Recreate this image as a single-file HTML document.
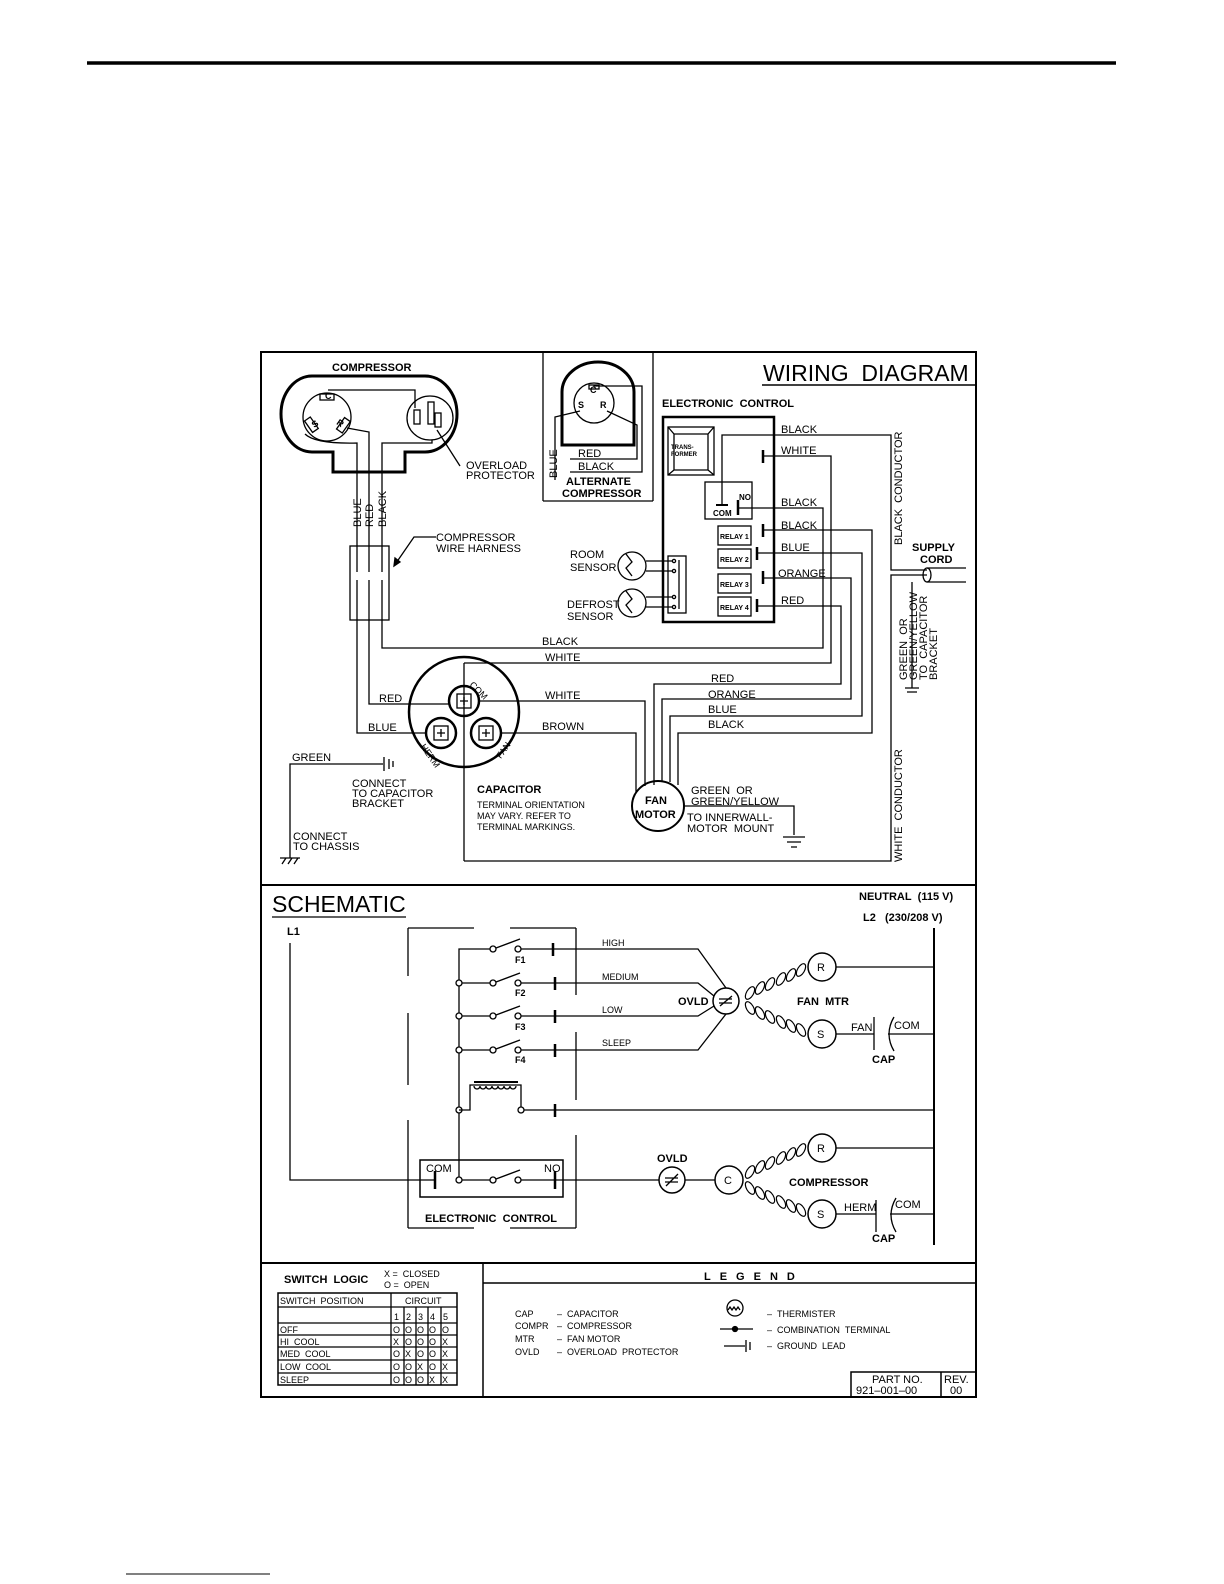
<!DOCTYPE html>
<html><head><meta charset="utf-8"><style>
html,body{margin:0;padding:0;background:#fff}
svg{display:block}
text{font-family:"Liberation Sans",sans-serif;fill:#000}
.t{font-size:11px}
.s{font-size:9px}
.b{font-weight:bold}
</style></head><body>
<svg width="1224" height="1584" viewBox="0 0 1224 1584" xmlns="http://www.w3.org/2000/svg">
<rect width="1224" height="1584" fill="#fff"/>
<line x1="87" y1="63" x2="1116" y2="63" stroke="#000" stroke-width="3.5"/>
<line x1="126" y1="1574" x2="270" y2="1574" stroke="#000" stroke-width="1"/>
<g stroke="#000" fill="none" stroke-width="1.3">
<rect x="261" y="352" width="715" height="1045" stroke-width="2"/>
<line x1="261" y1="885" x2="976" y2="885" stroke-width="2"/>
<line x1="261" y1="1263" x2="976" y2="1263" stroke-width="2"/>
<line x1="483" y1="1263" x2="483" y2="1397" stroke-width="1.5"/>
<line x1="483" y1="1283" x2="976" y2="1283" stroke-width="1.5"/>
<line x1="762" y1="385" x2="976" y2="385" stroke-width="1.5"/>
<path d="M333 452 L333 472 L405 472 L405 452 L425 452 A32 38 0 0 0 425 376 L312 376 A31 38 0 0 0 312 452 Z" stroke-width="3"/>
<circle cx="327" cy="417" r="24"/>
<ellipse cx="430" cy="418" rx="23" ry="22"/>
<rect x="320" y="394" width="14" height="6"/>
<rect x="308" y="418" width="7" height="14" transform="rotate(-35 311 425)"/>
<rect x="340" y="418" width="7" height="14" transform="rotate(35 343 425)"/>
<rect x="414" y="410" width="6" height="14"/>
<rect x="428" y="402" width="6" height="22"/>
<rect x="435" y="413" width="6" height="14"/>
<path d="M328 390 L415 390 L415 408"/>
<path d="M305 434 Q315 444 357 443 L357 546"/>
<path d="M347 428 L369 432 L369 546"/>
<path d="M432 440 L432 443 L382 443 L382 546"/>
<path d="M437 430 L460 466"/>
<rect x="350" y="546" width="39" height="74"/>
<line x1="357" y1="546" x2="357" y2="572"/><line x1="357" y1="580" x2="357" y2="620"/>
<line x1="369" y1="546" x2="369" y2="572"/><line x1="369" y1="580" x2="369" y2="620"/>
<line x1="382" y1="546" x2="382" y2="572"/><line x1="382" y1="580" x2="382" y2="620"/>
<path d="M436 537 L414 537 L394 566"/>
<path d="M394 566 l1 -8 l5 4 z" fill="#000"/>
<path d="M382 620 L382 648 L823 648 L823 508 L738 508"/>
<path d="M369 620 L369 704 L450 704"/>
<path d="M357 620 L357 733 L426 733"/>
<line x1="543" y1="352" x2="543" y2="501"/><line x1="653" y1="352" x2="653" y2="501"/><line x1="543" y1="501" x2="653" y2="501"/>
<path d="M562 445 L562 392 A36 30 0 0 1 634 392 L634 445 Z" stroke-width="3"/>
<circle cx="594" cy="403" r="20"/>
<rect x="589" y="385" width="10" height="4"/>
<path d="M555 480 L555 417 L580 411"/>
<path d="M570 459 L637 459 L637 425 L607 411"/>
<path d="M570 472 L642 472 L642 386 L594 386 L594 385"/>
<rect x="663" y="417" width="111" height="205" stroke-width="2.5"/>
<rect x="668" y="427" width="46" height="48"/>
<path d="M668 427 L674 434 L708 434 L714 427 M674 434 L674 470 L708 470 L708 434 M674 470 L668 475 M708 470 L714 475"/>
<rect x="705" y="482" width="47" height="37"/>
<rect x="718" y="526" width="33" height="19"/>
<rect x="718" y="549" width="33" height="19"/>
<rect x="718" y="574" width="33" height="19"/>
<rect x="718" y="597" width="33" height="19"/>
<path d="M722 505 L722 435 L891 435 L891 570 L927 570"/>
<line x1="716" y1="505" x2="728" y2="505" stroke-width="2"/>
<line x1="763" y1="450" x2="763" y2="463" stroke-width="2.5"/>
<line x1="738" y1="500" x2="738" y2="515" stroke-width="2.5"/>
<line x1="763" y1="524" x2="763" y2="537" stroke-width="2.5"/>
<line x1="757" y1="547" x2="757" y2="560" stroke-width="2.5"/>
<line x1="763" y1="571" x2="763" y2="584" stroke-width="2.5"/>
<line x1="757" y1="599" x2="757" y2="612" stroke-width="2.5"/>
<path d="M763 456 L831 456 L831 663 L464 663"/>
<path d="M763 530 L872 530 L872 733 L678 733 L678 785"/>
<path d="M757 553 L862 553 L862 716 L670 716 L670 782"/>
<path d="M763 578 L851 578 L851 699 L662 699 L662 782"/>
<path d="M757 606 L841 606 L841 684 L654 684 L654 785"/>
<rect x="668" y="556" width="18" height="57"/>
<line x1="679" y1="560" x2="679" y2="609"/>
<circle cx="632" cy="566" r="14"/><circle cx="632" cy="603" r="14"/>
<path d="M626 554 l6 8 l-6 6 l6 8"/><path d="M626 591 l6 8 l-6 6 l6 8"/>
<path d="M646 561 L673 561 M646 571 L673 571 M646 597 L673 597 M646 607 L673 607"/>
<circle cx="674" cy="561" r="1.6"/><circle cx="674" cy="571" r="1.6"/><circle cx="674" cy="597" r="1.6"/><circle cx="674" cy="607" r="1.6"/>
<circle cx="464" cy="712" r="55" stroke-width="2.5"/>
<line x1="464" y1="663" x2="464" y2="861"/>
<circle cx="464" cy="701" r="15" stroke-width="2.5"/><rect x="457" y="694" width="14" height="14"/>
<circle cx="441" cy="733" r="15" stroke-width="2.5"/><rect x="434" y="726" width="14" height="14"/>
<circle cx="486" cy="733" r="15" stroke-width="2.5"/><rect x="479" y="726" width="14" height="14"/>
<path d="M464 697 v8 M460 701 h8 M441 729 v8 M437 733 h8 M486 729 v8 M482 733 h8"/>
<path d="M479 701 L645 701 L645 786"/>
<path d="M501 733 L636 733 L636 792"/>
<path d="M464 861 L891 861 L891 575 L927 575"/>
<ellipse cx="658" cy="806" rx="26" ry="25" stroke-width="2"/>
<path d="M684 806 L794 806 L794 835 M783 837 L805 837 M787 842 L801 842 M791 847 L797 847"/>
<path d="M927 568 L966 568 M927 582 L966 582"/>
<ellipse cx="927" cy="575" rx="4" ry="7"/>
<path d="M912 582 L912 688 M905 688 L919 688 M907 692 L917 692"/>
<path d="M290 858 L290 764 L383 764"/>
<path d="M384 757 L384 771 M389 759 L389 769 M393 761 L393 767"/>
<path d="M280 858 L300 858 M282 864 l4 -6 M288 864 l4 -6 M294 864 l4 -6"/>
<line x1="272" y1="917" x2="406" y2="917" stroke-width="1.3"/>
<path d="M290 943 L290 1180 L435 1180"/>
<line x1="934" y1="928" x2="934" y2="1245" stroke-width="2"/>
<path d="M408 928 L474 928 M510 928 L576 928 M408 928 L408 976 M408 1013 L408 1085 M408 1120 L408 1228 M408 1228 L474 1228 M510 1228 L576 1228 M576 928 L576 995 M576 1032 L576 1100 M576 1135 L576 1228"/>
<path d="M459 1180 L459 949 L490 949"/>
<path d="M459 983 L490 983 M459 1016 L490 1016 M459 1050 L490 1050"/>
<g fill="#fff">
<circle cx="459" cy="983" r="3"/><circle cx="459" cy="1016" r="3"/><circle cx="459" cy="1050" r="3"/><circle cx="459" cy="1110" r="3"/><circle cx="459" cy="1180" r="3"/>
<circle cx="493" cy="949" r="3"/><circle cx="493" cy="983" r="3"/><circle cx="493" cy="1016" r="3"/><circle cx="493" cy="1050" r="3"/><circle cx="493" cy="1180" r="3"/>
<circle cx="518" cy="949" r="3"/><circle cx="518" cy="983" r="3"/><circle cx="518" cy="1016" r="3"/><circle cx="518" cy="1050" r="3"/><circle cx="518" cy="1180" r="3"/><circle cx="521" cy="1110" r="3"/>
</g>
<path d="M496 948 L520 939 M496 982 L520 973 M496 1015 L520 1006 M496 1049 L520 1040 M496 1179 L520 1170"/>
<path d="M521 949 L698 949 L726 988 M521 983 L698 983 L714 996 M521 1016 L698 1016 L714 1006 M521 1050 L698 1050 L726 1014"/>
<path d="M553 943 v13 M555 977 v13 M555 1010 v13 M555 1044 v13 M555 1104 v13 M435 1171 v18 M555 1171 v18" stroke-width="2.5"/>
<path d="M459 1110 L470 1110 L470 1085 L521 1085 L521 1107 M524 1110 L934 1110"/>
<path d="M474 1082 L518 1082" stroke-width="2"/>
<path d="M474 1086 a3 3 0 0 0 6 0 a3 3 0 0 0 6 0 a3 3 0 0 0 6 0 a3 3 0 0 0 6 0 a3 3 0 0 0 6 0 a3 3 0 0 0 6 0 a3 3 0 0 0 6 0"/>
<rect x="420" y="1160" width="143" height="37" stroke-width="1.5"/>
<path d="M462 1180 L490 1180 M521 1180 L659 1180"/>
<circle cx="726" cy="1001" r="13" stroke-width="1.5"/>
<path d="M720 1006 L732 996 M719 999 h13 M719 1003 h13"/>
<g stroke-width="1.2">
<ellipse cx="750" cy="993" rx="3.5" ry="7" transform="rotate(30 750 993)"/>
<ellipse cx="760" cy="988" rx="3.5" ry="7" transform="rotate(30 760 988)"/>
<ellipse cx="770" cy="984" rx="3.5" ry="7" transform="rotate(30 770 984)"/>
<ellipse cx="781" cy="979" rx="3.5" ry="7" transform="rotate(30 781 979)"/>
<ellipse cx="791" cy="975" rx="3.5" ry="7" transform="rotate(30 791 975)"/>
<ellipse cx="801" cy="970" rx="3.5" ry="7" transform="rotate(30 801 970)"/>
<ellipse cx="750" cy="1008" rx="3.5" ry="7" transform="rotate(-30 750 1008)"/>
<ellipse cx="760" cy="1013" rx="3.5" ry="7" transform="rotate(-30 760 1013)"/>
<ellipse cx="770" cy="1017" rx="3.5" ry="7" transform="rotate(-30 770 1017)"/>
<ellipse cx="781" cy="1022" rx="3.5" ry="7" transform="rotate(-30 781 1022)"/>
<ellipse cx="791" cy="1026" rx="3.5" ry="7" transform="rotate(-30 791 1026)"/>
<ellipse cx="801" cy="1030" rx="3.5" ry="7" transform="rotate(-30 801 1030)"/>
</g>
<circle cx="822" cy="967" r="14" stroke-width="1.5"/>
<circle cx="822" cy="1034" r="14" stroke-width="1.5"/>
<path d="M836 967 L934 967 M836 1034 L874 1034 M874 1017 L874 1050 M894 1017 Q884 1034 894 1051 M888 1034 L934 1034"/>
<circle cx="672" cy="1180" r="13" stroke-width="1.5"/>
<path d="M666 1186 L678 1174 M665 1178 h13 M665 1182 h13"/>
<path d="M685 1180 L715 1180"/>
<circle cx="729" cy="1180" r="14" stroke-width="1.5"/>
<g stroke-width="1.2">
<ellipse cx="750" cy="1172" rx="3.5" ry="7" transform="rotate(30 750 1172)"/>
<ellipse cx="760" cy="1167" rx="3.5" ry="7" transform="rotate(30 760 1167)"/>
<ellipse cx="770" cy="1163" rx="3.5" ry="7" transform="rotate(30 770 1163)"/>
<ellipse cx="781" cy="1158" rx="3.5" ry="7" transform="rotate(30 781 1158)"/>
<ellipse cx="791" cy="1154" rx="3.5" ry="7" transform="rotate(30 791 1154)"/>
<ellipse cx="801" cy="1150" rx="3.5" ry="7" transform="rotate(30 801 1150)"/>
<ellipse cx="750" cy="1188" rx="3.5" ry="7" transform="rotate(-30 750 1188)"/>
<ellipse cx="760" cy="1193" rx="3.5" ry="7" transform="rotate(-30 760 1193)"/>
<ellipse cx="770" cy="1197" rx="3.5" ry="7" transform="rotate(-30 770 1197)"/>
<ellipse cx="781" cy="1202" rx="3.5" ry="7" transform="rotate(-30 781 1202)"/>
<ellipse cx="791" cy="1206" rx="3.5" ry="7" transform="rotate(-30 791 1206)"/>
<ellipse cx="801" cy="1210" rx="3.5" ry="7" transform="rotate(-30 801 1210)"/>
</g>
<circle cx="822" cy="1148" r="14" stroke-width="1.5"/>
<circle cx="822" cy="1214" r="14" stroke-width="1.5"/>
<path d="M836 1148 L934 1148 M836 1214 L876 1214 M876 1200 L876 1232 M896 1198 Q886 1215 896 1232 M890 1214 L934 1214"/>
<rect x="278" y="1293" width="179" height="92" stroke-width="1.5"/>
<path d="M391 1293 L391 1385 M278 1307 L457 1307 M278 1323 L457 1323 M278 1335 L457 1335 M278 1347 L457 1347 M278 1360 L457 1360 M278 1373 L457 1373 M404 1307 L404 1385 M416 1307 L416 1385 M428 1307 L428 1385 M441 1307 L441 1385"/>
<circle cx="735" cy="1308" r="8"/>
<path d="M728 1310 l2 -3 l2 3 l2 -3 l2 3 l2 -3 l2 3"/>
<path d="M720 1329 L753 1329 M724 1346 L745 1346"/>
<circle cx="735" cy="1329" r="2.5" fill="#000"/>
<path d="M746 1340 v12 M750 1342 v8" />
<rect x="851" y="1372" width="125" height="25" stroke-width="1.5"/>
<line x1="941" y1="1372" x2="941" y2="1397" stroke-width="1.5"/>
</g>
<g>
<text x="763" y="381" style="font-size:23px">WIRING&#160;&#160;DIAGRAM</text>
<text x="332" y="371" class="t b">COMPRESSOR</text>
<text x="325" y="399" class="s b">C</text>
<text x="312" y="427" class="s b" transform="rotate(-35 315 424)">S</text>
<text x="337" y="426" class="s b" transform="rotate(35 340 423)">R</text>
<text x="466" y="469" class="t">OVERLOAD</text>
<text x="466" y="479" class="t">PROTECTOR</text>
<text x="436" y="541" class="t">COMPRESSOR</text>
<text x="436" y="552" class="t">WIRE HARNESS</text>
<text transform="translate(361 527) rotate(-90)" class="t">BLUE</text>
<text transform="translate(373 527) rotate(-90)" class="t">RED</text>
<text transform="translate(386 527) rotate(-90)" class="t">BLACK</text>
<text transform="translate(557 478) rotate(-90)" class="t">BLUE</text>
<text x="590" y="393" class="s b">C</text>
<text x="578" y="408" class="s b">S</text>
<text x="600" y="408" class="s b">R</text>
<text x="578" y="457" class="t">RED</text>
<text x="578" y="470" class="t">BLACK</text>
<text x="566" y="485" class="t b">ALTERNATE</text>
<text x="562" y="497" class="t b">COMPRESSOR</text>
<text x="662" y="407" class="t b">ELECTRONIC&#160;&#160;CONTROL</text>
<text x="671" y="449" style="font-size:6px;font-weight:bold">TRANS-</text>
<text x="671" y="456" style="font-size:6px;font-weight:bold">FORMER</text>
<text x="739" y="500" style="font-size:8px;font-weight:bold">NO</text>
<text x="713" y="516" style="font-size:8px;font-weight:bold">COM</text>
<text x="720" y="539" style="font-size:7px;font-weight:bold">RELAY 1</text>
<text x="720" y="562" style="font-size:7px;font-weight:bold">RELAY 2</text>
<text x="720" y="587" style="font-size:7px;font-weight:bold">RELAY 3</text>
<text x="720" y="610" style="font-size:7px;font-weight:bold">RELAY 4</text>
<text x="781" y="433" class="t">BLACK</text>
<text x="781" y="454" class="t">WHITE</text>
<text x="781" y="506" class="t">BLACK</text>
<text x="781" y="529" class="t">BLACK</text>
<text x="781" y="551" class="t">BLUE</text>
<text x="778" y="577" class="t">ORANGE</text>
<text x="781" y="604" class="t">RED</text>
<text x="570" y="558" class="t">ROOM</text>
<text x="570" y="571" class="t">SENSOR</text>
<text x="567" y="608" class="t">DEFROST</text>
<text x="567" y="620" class="t">SENSOR</text>
<text transform="translate(902 545) rotate(-90)" class="t">BLACK&#160;&#160;CONDUCTOR</text>
<text x="912" y="551" class="t b">SUPPLY</text>
<text x="920" y="563" class="t b">CORD</text>
<text transform="translate(907 680) rotate(-90)" class="t">GREEN&#160;&#160;OR</text>
<text transform="translate(917 680) rotate(-90)" class="t">GREEN/YELLOW</text>
<text transform="translate(927 680) rotate(-90)" class="t">TO&#160;&#160;CAPACITOR</text>
<text transform="translate(937 680) rotate(-90)" class="t">BRACKET</text>
<text transform="translate(902 862) rotate(-90)" class="t">WHITE&#160;&#160;CONDUCTOR</text>
<text x="542" y="645" class="t">BLACK</text>
<text x="545" y="661" class="t">WHITE</text>
<text x="711" y="682" class="t">RED</text>
<text x="708" y="698" class="t">ORANGE</text>
<text x="708" y="713" class="t">BLUE</text>
<text x="708" y="728" class="t">BLACK</text>
<text x="545" y="699" class="t">WHITE</text>
<text x="542" y="730" class="t">BROWN</text>
<text x="379" y="702" class="t">RED</text>
<text x="368" y="731" class="t">BLUE</text>
<text x="470" y="689" class="s" transform="rotate(45 474 686)">COM</text>
<text x="420" y="757" class="s" transform="rotate(55 430 752)">HERM</text>
<text x="493" y="756" class="s" transform="rotate(-55 500 750)">FAN</text>
<text x="477" y="793" class="t b">CAPACITOR</text>
<text x="477" y="808" class="s">TERMINAL ORIENTATION</text>
<text x="477" y="819" class="s">MAY VARY. REFER TO</text>
<text x="477" y="830" class="s">TERMINAL MARKINGS.</text>
<text x="645" y="804" class="t b">FAN</text>
<text x="635" y="818" class="t b">MOTOR</text>
<text x="691" y="794" class="t">GREEN&#160;&#160;OR</text>
<text x="691" y="805" class="t">GREEN/YELLOW</text>
<text x="687" y="821" class="t">TO INNERWALL-</text>
<text x="687" y="832" class="t">MOTOR&#160;&#160;MOUNT</text>
<text x="292" y="761" class="t">GREEN</text>
<text x="352" y="787" class="t">CONNECT</text>
<text x="352" y="797" class="t">TO CAPACITOR</text>
<text x="352" y="807" class="t">BRACKET</text>
<text x="293" y="840" class="t">CONNECT</text>
<text x="293" y="850" class="t">TO CHASSIS</text>
<text x="272" y="912" style="font-size:23px">SCHEMATIC</text>
<text x="859" y="900" class="t b">NEUTRAL&#160;&#160;(115 V)</text>
<text x="863" y="921" class="t b">L2&#160;&#160;&#160;(230/208 V)</text>
<text x="287" y="935" class="t b">L1</text>
<text x="602" y="946" class="s">HIGH</text>
<text x="602" y="980" class="s">MEDIUM</text>
<text x="602" y="1013" class="s">LOW</text>
<text x="602" y="1046" class="s">SLEEP</text>
<text x="515" y="963" class="s b">F1</text>
<text x="515" y="996" class="s b">F2</text>
<text x="515" y="1030" class="s b">F3</text>
<text x="515" y="1063" class="s b">F4</text>
<text x="678" y="1005" class="t b">OVLD</text>
<text x="797" y="1005" class="t b">FAN&#160;&#160;MTR</text>
<text x="817" y="971" class="t">R</text>
<text x="817" y="1038" class="t">S</text>
<text x="851" y="1031" class="t">FAN</text>
<text x="894" y="1029" class="t">COM</text>
<text x="872" y="1063" class="t b">CAP</text>
<text x="426" y="1172" class="t">COM</text>
<text x="544" y="1172" class="t">NO</text>
<text x="425" y="1222" class="t b">ELECTRONIC&#160;&#160;CONTROL</text>
<text x="657" y="1162" class="t b">OVLD</text>
<text x="724" y="1184" class="t">C</text>
<text x="789" y="1186" class="t b">COMPRESSOR</text>
<text x="817" y="1152" class="t">R</text>
<text x="817" y="1218" class="t">S</text>
<text x="844" y="1211" class="t">HERM</text>
<text x="895" y="1208" class="t">COM</text>
<text x="872" y="1242" class="t b">CAP</text>
<text x="284" y="1283" class="t b">SWITCH&#160;&#160;LOGIC</text>
<text x="384" y="1277" class="s">X&#160;=&#160;&#160;CLOSED</text>
<text x="384" y="1288" class="s">O&#160;=&#160;&#160;OPEN</text>
<text x="280" y="1304" class="s">SWITCH&#160;&#160;POSITION</text>
<text x="405" y="1304" class="s">CIRCUIT</text>
<text x="394" y="1320" class="s">1</text><text x="406" y="1320" class="s">2</text><text x="418" y="1320" class="s">3</text><text x="430" y="1320" class="s">4</text><text x="443" y="1320" class="s">5</text>
<text x="280" y="1333" class="s">OFF</text>
<text x="280" y="1345" class="s">HI&#160;&#160;COOL</text>
<text x="280" y="1357" class="s">MED&#160;&#160;COOL</text>
<text x="280" y="1370" class="s">LOW&#160;&#160;COOL</text>
<text x="280" y="1383" class="s">SLEEP</text>
<text x="393" y="1333" class="s">O</text><text x="405" y="1333" class="s">O</text><text x="417" y="1333" class="s">O</text><text x="429" y="1333" class="s">O</text><text x="442" y="1333" class="s">O</text>
<text x="393" y="1345" class="s">X</text><text x="405" y="1345" class="s">O</text><text x="417" y="1345" class="s">O</text><text x="429" y="1345" class="s">O</text><text x="442" y="1345" class="s">X</text>
<text x="393" y="1357" class="s">O</text><text x="405" y="1357" class="s">X</text><text x="417" y="1357" class="s">O</text><text x="429" y="1357" class="s">O</text><text x="442" y="1357" class="s">X</text>
<text x="393" y="1370" class="s">O</text><text x="405" y="1370" class="s">O</text><text x="417" y="1370" class="s">X</text><text x="429" y="1370" class="s">O</text><text x="442" y="1370" class="s">X</text>
<text x="393" y="1383" class="s">O</text><text x="405" y="1383" class="s">O</text><text x="417" y="1383" class="s">O</text><text x="429" y="1383" class="s">X</text><text x="442" y="1383" class="s">X</text>
<text x="704" y="1280" class="t b" style="letter-spacing:9px">LEGEND</text>
<text x="515" y="1317" class="s">CAP</text><text x="557" y="1317" class="s">–&#160;&#160;CAPACITOR</text>
<text x="515" y="1329" class="s">COMPR</text><text x="557" y="1329" class="s">–&#160;&#160;COMPRESSOR</text>
<text x="515" y="1342" class="s">MTR</text><text x="557" y="1342" class="s">–&#160;&#160;FAN&#160;MOTOR</text>
<text x="515" y="1355" class="s">OVLD</text><text x="557" y="1355" class="s">–&#160;&#160;OVERLOAD&#160;&#160;PROTECTOR</text>
<text x="767" y="1317" class="s">–&#160;&#160;THERMISTER</text>
<text x="767" y="1333" class="s">–&#160;&#160;COMBINATION&#160;&#160;TERMINAL</text>
<text x="767" y="1349" class="s">–&#160;&#160;GROUND&#160;&#160;LEAD</text>
<text x="872" y="1383" class="t">PART NO.</text>
<text x="856" y="1394" class="t">921–001–00</text>
<text x="944" y="1383" class="t">REV.</text>
<text x="950" y="1394" class="t">00</text>
</g>
</svg>
</body></html>
